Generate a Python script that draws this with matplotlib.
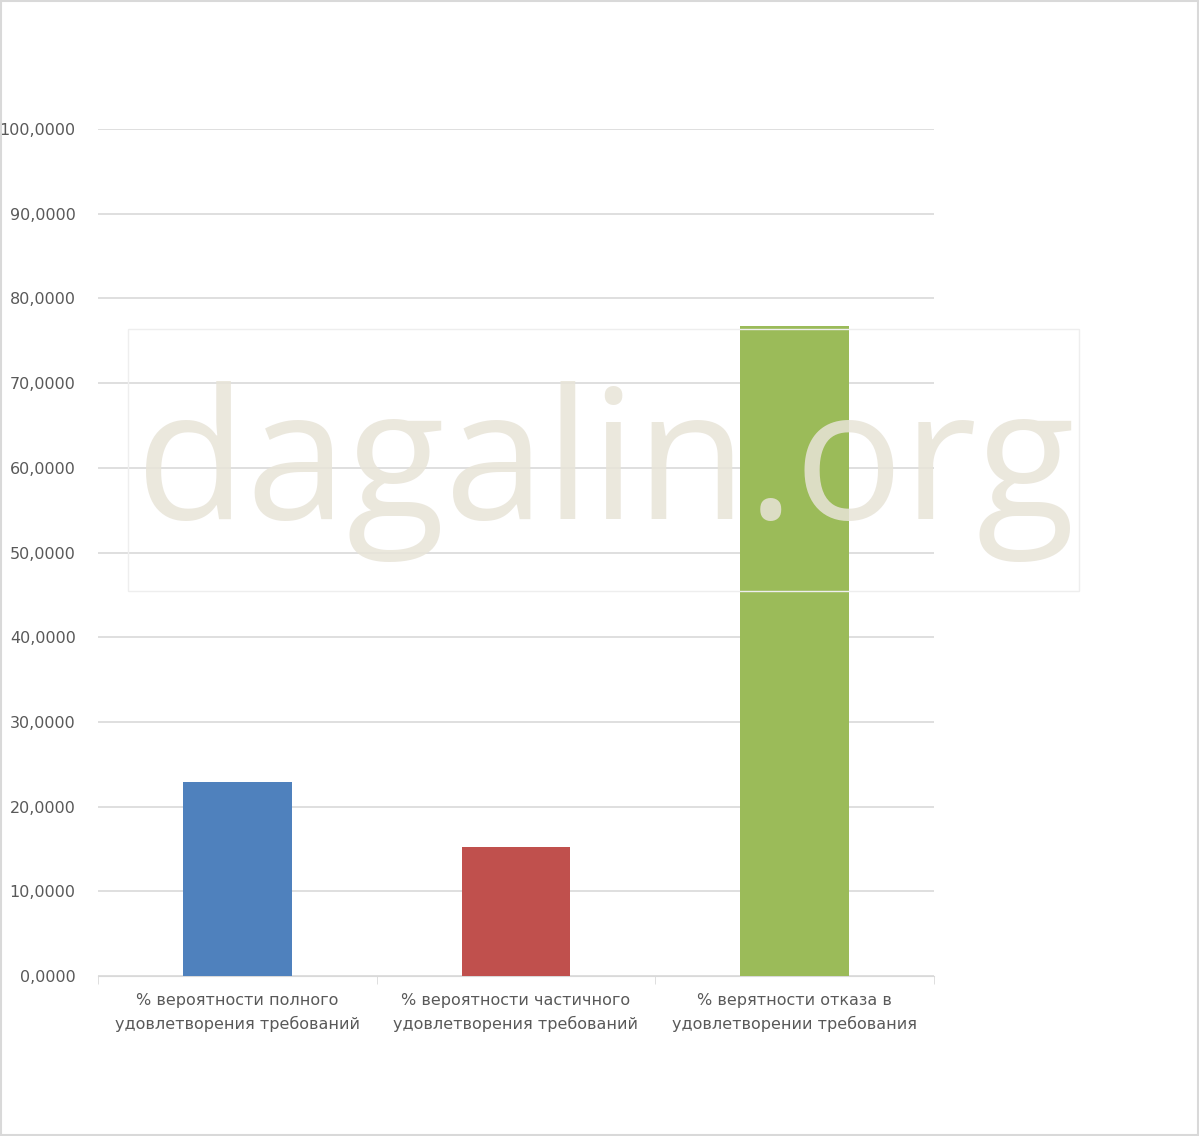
import matplotlib
matplotlib.use("Agg")
import matplotlib.pyplot as plt
from matplotlib.patches import Rectangle

categories = ["% вероятности полного\nудовлетворения требований",
              "% вероятности частичного\nудовлетворения требований",
              "% верятности отказа в\nудовлетворении требования"]
values = [22.9, 15.2, 76.7]
colors = ["#4f81bd", "#c0504d", "#9bbb59"]
yticks = [0, 10, 20, 30, 40, 50, 60, 70, 80, 90, 100]

fig = plt.figure(figsize=(11.99, 11.36), dpi=100)
fig.patches.append(Rectangle((0.001, 0.001), 0.998, 0.998, transform=fig.transFigure,
                             fill=False, edgecolor="#d9d9d9", lw=1.5))
ax = fig.add_axes([0.0817, 0.1408, 0.6973, 0.7456])
x = list(range(len(categories)))
ax.bar(x, values, width=0.39, color=colors, zorder=3)
ax.set_xlim(-0.5, 2.5)
ax.set_ylim(0, 100)
ax.set_yticks(yticks)
ax.set_yticklabels([f"{v:.4f}".replace(".", ",") for v in yticks], color="#595959", fontsize=11.5)
ax.set_xticks(x)
ax.set_xticklabels(categories, color="#595959", fontsize=11.5, linespacing=1.6)
ax.tick_params(axis="y", length=0, pad=16)
ax.tick_params(axis="x", length=0, pad=12)
ax.set_xticks([-0.5, 0.5, 1.5, 2.5], minor=True)
ax.tick_params(axis="x", which="minor", length=6, color="#d9d9d9")
ax.grid(axis="y", color="#d9d9d9", lw=1.2, zorder=0)
for s in ["top", "right", "left"]:
    ax.spines[s].set_visible(False)
ax.spines["bottom"].set_color("#d9d9d9")

fig.patches.append(Rectangle((0.107, 0.48), 0.793, 0.23, transform=fig.transFigure,
                             fill=False, edgecolor="#eeeeee", lw=1, zorder=5))
fig.text(0.505, 0.585, "dagalin.org", fontsize=130, color="#e8e4d8", alpha=0.85,
         ha="center", va="center", family="Open Sans", zorder=6)

fig.savefig("out.png", dpi=100)
